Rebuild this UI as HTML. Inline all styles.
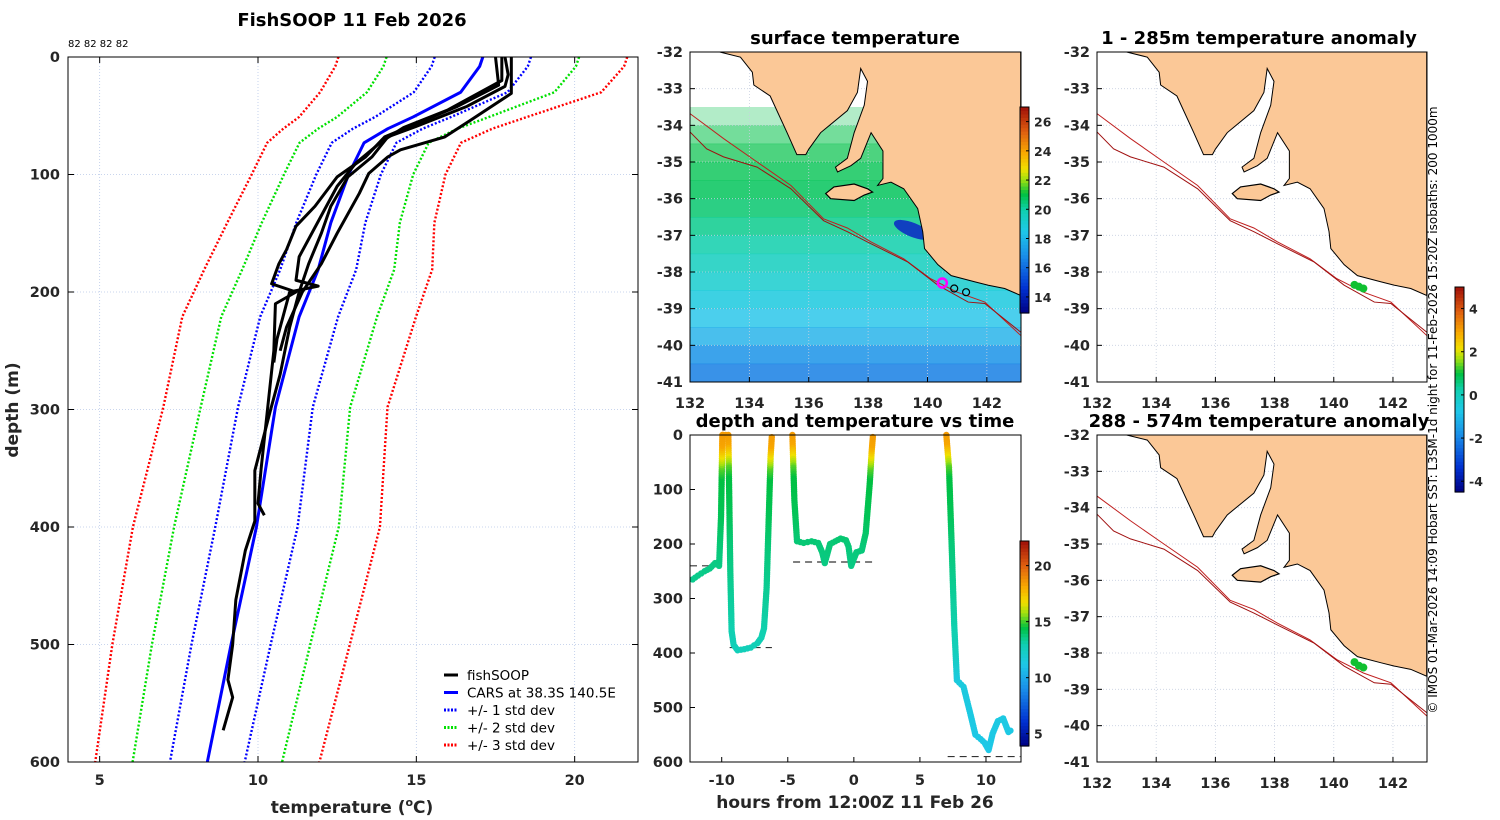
<!DOCTYPE html>
<html><head><meta charset="utf-8"><style>
html,body{margin:0;padding:0;background:#fff;}
svg{display:block;font-family:"DejaVu Sans","Liberation Sans",sans-serif;}
.tk{font-size:14.5px;font-weight:bold;fill:#262626;}
.ti{font-size:18px;font-weight:bold;fill:#000;}
</style></head><body>
<svg id="fig" width="1500" height="820" viewBox="0 0 1500 820" xmlns="http://www.w3.org/2000/svg"></svg>
<script>
// ---------- DATA ----------
const carsDepth=[0,8,30,51,61,73,100,141,181,221,298,400,500,600];
const carsTemp=[17.1,17.0,16.4,14.9,14.1,13.35,12.86,12.3,11.9,11.3,10.55,9.95,9.15,8.4];
const carsStd=[1.52,1.52,1.48,1.2,1.1,1.02,1.02,1.09,1.2,1.23,1.18,1.3,1.25,1.18];
const prof1Depth=[0,15,25,42,59,68,85,102,127,150,176,200,230,270,300,352,395,420,462,500,530,545,573];
const prof1Temp=[17.8,17.9,17.8,16.6,15.0,14.1,13.6,12.84,12.3,12.0,11.6,11.3,11.0,10.7,10.4,9.9,9.9,9.6,9.3,9.2,9.05,9.2,8.9];
const prof2Depth=[0,31,54,68,79,85,99,116,150,176,200,230,250];
const prof2Temp=[18.0,18.0,16.7,15.9,14.5,14.1,13.5,13.2,12.5,12.0,11.4,10.9,10.7];
const prof3Depth=[0,24,42,59,68,85,102,127,144,164,176,193,200,210,250,300,350,380,390];
const prof3Temp=[17.5,17.6,16.3,14.8,14.0,13.4,12.5,11.8,11.2,10.9,10.66,10.43,11.2,10.55,10.5,10.3,10.1,10.0,10.2];
const prof4Depth=[0,20,45,60,72,90,110,140,170,190,195,200,240,260];
const prof4Temp=[17.7,17.7,16.0,14.6,13.9,13.1,12.5,11.9,11.3,11.2,11.9,11.0,10.6,10.5];
const legendLabels=["fishSOOP","CARS at 38.3S 140.5E","+/- 1 std dev","+/- 2 std dev","+/- 3 std dev"];
const tempTicks=[5,10,15,20];
const depthTicks=[0,100,200,300,400,500,600];
// depth-time series
const dtHours=[-12.2,-11.8,-11.3,-10.9,-10.5,-10.2,-10.05,-9.95,-9.9,-9.5,-9.45,-9.35,-9.25,-9.1,-8.8,-8.3,-7.8,-7.3,-7.0,-6.8,-6.6,-6.4,-6.3,-6.2];
const dtDepth=[265,258,250,245,235,240,150,0,0,0,80,250,360,385,395,393,390,382,372,355,280,120,40,0];
const dtHours2=[-4.65,-4.6,-4.5,-4.3,-3.8,-3.2,-2.7,-2.4,-2.2,-1.8,-1.4,-1.0,-0.6,-0.4,-0.2,0.2,0.6,0.9,1.2,1.35,1.45];
const dtDepth2=[0,40,120,195,198,195,198,215,235,200,195,190,193,205,240,215,212,180,90,30,0];
const dtHours3=[7.0,7.2,7.4,7.6,7.8,8.3,8.8,9.2,9.6,9.9,10.2,10.5,10.9,11.3,11.7,12.0];
const dtDepth3=[0,60,200,350,450,462,510,550,558,565,578,548,525,520,545,540];
const dashDepth=[240,390,233,590];
const dashH0=[-12.4,-9.4,-4.6,7.1];
const dashH1=[-10.2,-6.2,1.4,12.6];
// SST bands (lat, temp)
const sstLat=[-33.5,-34.0,-34.5,-35,-35.5,-36,-36.5,-37,-37.5,-38,-38.5,-39,-39.5,-40,-40.5];
const sstVal=[21.0,21.0,21.0,20.9,20.8,20.6,20.3,20.0,19.6,19.2,18.8,18.4,17.8,17.0,16.5];
const sstOpacity=[0.3,0.55,0.7,0.8,0.85,0.85,0.85,0.85,0.85,0.85,0.85,0.8,0.8,0.85,0.85];
const latTicks=[-32,-33,-34,-35,-36,-37,-38,-39,-40,-41];
const lonTicks=[132,134,136,138,140,142];
const coastLon=[133.0,133.7,134.1,134.15,134.7,135.27,135.6,135.9,136.0,136.4,137.3,137.64,137.75,137.98,137.87,137.53,137.3,136.9,136.97,137.42,137.75,138.1,138.5,138.5,138.32,138.77,139.2,139.67,139.84,139.9,140.35,140.8,141.6,142.05,142.6,143.14,143.14];
const coastLat=[-32.0,-32.14,-32.55,-32.9,-33.2,-34.2,-34.8,-34.8,-34.65,-34.2,-33.6,-33.1,-32.45,-32.8,-33.45,-34.2,-34.9,-35.14,-35.27,-35.1,-34.9,-34.2,-34.7,-35.45,-35.64,-35.55,-35.73,-36.27,-36.9,-37.36,-37.8,-38.1,-38.27,-38.36,-38.45,-38.64,-32.0];
const kiLon=[136.57,136.85,137.53,137.98,138.15,137.87,137.53,136.74];
const kiLat=[-35.86,-35.68,-35.6,-35.73,-35.82,-35.9,-36.05,-36.0];
const iso1Lon=[132,133.13,134.26,135.4,136.5,137.3,138.1,139.2,140.1,141.0,141.93,143.14];
const iso1Lat=[-33.68,-34.36,-35.0,-35.64,-36.55,-36.8,-37.18,-37.64,-38.18,-38.55,-38.82,-39.73];
const iso2Lon=[132,132.56,133.13,134.26,135.4,136.5,137.3,138.1,139.34,140.35,141.37,141.93,143.14];
const iso2Lat=[-34.18,-34.64,-34.86,-35.14,-35.73,-36.6,-36.9,-37.23,-37.73,-38.36,-38.82,-38.86,-39.64];
const tagLon=[140.7,140.85,141.0];
const tagLat1=[-38.35,-38.4,-38.45];
const tagLat2=[-38.25,-38.35,-38.4];
const sstCbTicks=[14,16,18,20,22,24,26];
const anoCbTicks=[-4,-2,0,2,4];
const dtCbTicks=[5,10,15,20];

// ---------- helpers ----------
const S=document.getElementById('fig');const NS='http://www.w3.org/2000/svg';
function mk(tag,attrs,parent){const e=document.createElementNS(NS,tag);for(const k in attrs)e.setAttribute(k,attrs[k]);(parent||S).appendChild(e);return e;}
function txt(x,y,s,cls,anchor,extra){const t=mk('text',Object.assign({x:x,y:y,class:cls||'tk','text-anchor':anchor||'middle'},extra||{}));t.textContent=s;return t;}
const stops=[[0,'#000080'],[0.12,'#0030d0'],[0.28,'#1a8ee8'],[0.4,'#1ec8e8'],[0.5,'#10d0b0'],[0.58,'#00c040'],[0.65,'#a0e010'],[0.7,'#f0e000'],[0.78,'#f8a800'],[0.88,'#e06010'],[1,'#a01008']];
function hx(c){return [parseInt(c.slice(1,3),16),parseInt(c.slice(3,5),16),parseInt(c.slice(5,7),16)];}
function cmap(v){v=Math.max(0,Math.min(1,v));for(let i=1;i<stops.length;i++){if(v<=stops[i][0]){const a=hx(stops[i-1][1]),b=hx(stops[i][1]);const f=(v-stops[i-1][0])/(stops[i][0]-stops[i-1][0]);return 'rgb('+a.map((x,j)=>Math.round(x+(b[j]-x)*f)).join(',')+')';}}return stops[stops.length-1][1];}
function interp(xs,ys,x){if(x<=xs[0])return ys[0];for(let i=1;i<xs.length;i++)if(x<=xs[i])return ys[i-1]+(ys[i]-ys[i-1])*(x-xs[i-1])/(xs[i]-xs[i-1]);return ys[ys.length-1];}
function colorbar(x,y0,y1,vmin,vmax,ticks,name){
  const g=mk('g',{});
  const n=60;for(let i=0;i<n;i++){mk('rect',{x:x,y:y1-(i+1)*(y1-y0)/n,width:9,height:(y1-y0)/n+0.6,fill:cmap((i+0.5)/n)},g);}
  mk('rect',{x:x,y:y0,width:9,height:y1-y0,fill:'none',stroke:'#000','stroke-width':1},g);
  ticks.forEach(t=>{const yy=y1-(t-vmin)/(vmax-vmin)*(y1-y0);mk('line',{x1:x+9,x2:x+6,y1:yy,y2:yy,stroke:'#000'},g);const l=txt(x+14,yy+5,String(t),'tk','start');l.setAttribute('style','font-size:12.5px');g.appendChild(l);});
}

// ---------- LEFT PROFILE PANEL ----------
const L={x0:68,x1:638,y0:57,y1:762,t0:4,t1:22,d0:0,d1:600};
const px=t=>L.x0+(t-L.t0)/(L.t1-L.t0)*(L.x1-L.x0);
const py=d=>L.y0+(d-L.d0)/(L.d1-L.d0)*(L.y1-L.y0);
const gL=mk('g',{});
tempTicks.forEach(t=>{mk('line',{x1:px(t),x2:px(t),y1:L.y0,y2:L.y1,stroke:'#b8c8e8','stroke-width':0.8,'stroke-dasharray':'1,2'},gL);});
depthTicks.forEach(d=>{mk('line',{x1:L.x0,x2:L.x1,y1:py(d),y2:py(d),stroke:'#b8c8e8','stroke-width':0.8,'stroke-dasharray':'1,2'},gL);});
function pline(ds,ts,col,w,dash,name){const p=mk('polyline',{points:ds.map((d,i)=>px(ts[i])+','+py(d)).join(' '),fill:'none',stroke:col,'stroke-width':w,'stroke-linejoin':'round'},gL);if(dash)p.setAttribute('stroke-dasharray',dash);}
[[1,'#0000ff'],[2,'#00e000'],[3,'#ff0000']].forEach(([k,c])=>{
  pline(carsDepth,carsTemp.map((t,i)=>t-k*carsStd[i]),c,2.4,'2,2','std-minus-'+k);
  pline(carsDepth,carsTemp.map((t,i)=>t+k*carsStd[i]),c,2.4,'2,2','std-plus-'+k);
});
pline(carsDepth,carsTemp,'#0000ff',3,null,'cars-profile');
pline(prof1Depth,prof1Temp,'#000',3,null,'fishsoop-profile-1');
pline(prof2Depth,prof2Temp,'#000',3,null,'fishsoop-profile-2');
pline(prof3Depth,prof3Temp,'#000',3,null,'fishsoop-profile-3');
pline(prof4Depth,prof4Temp,'#000',3,null,'fishsoop-profile-4');
mk('rect',{x:L.x0,y:L.y0,width:L.x1-L.x0,height:L.y1-L.y0,fill:'none',stroke:'#000','stroke-width':1},gL);
tempTicks.forEach(t=>{mk('line',{x1:px(t),x2:px(t),y1:L.y1,y2:L.y1-6,stroke:'#000'},gL);mk('line',{x1:px(t),x2:px(t),y1:L.y0,y2:L.y0+6,stroke:'#000'},gL);gL.appendChild(txt(px(t),785,String(t)));});
depthTicks.forEach(d=>{mk('line',{x1:L.x0,x2:L.x0+6,y1:py(d),y2:py(d),stroke:'#000'},gL);mk('line',{x1:L.x1,x2:L.x1-6,y1:py(d),y2:py(d),stroke:'#000'},gL);gL.appendChild(txt(60,py(d)+5,String(d),'tk','end'));});
const xl=txt(352,813,'','tk','middle',{style:'font-size:17px'});xl.innerHTML='temperature (<tspan dy="-7" style="font-size:11px">o</tspan><tspan dy="7">C)</tspan>';
const yl=txt(0,0,'depth (m)','tk','middle',{transform:'translate(18,410) rotate(-90)',style:'font-size:17px'});
const t1=txt(352,26,'FishSOOP 11 Feb 2026','ti');
const sm=txt(68,47,'82 82 82 82','tk','start',{style:'font-size:10px;font-weight:normal;fill:#000'});
// legend
const lg=mk('g',{});
const lcol=['#000','#0000ff','#0000ff','#00e000','#ff0000'];
legendLabels.forEach((s,i)=>{const y=675+i*17.5;const ln=mk('line',{x1:444,x2:458,y1:y,y2:y,stroke:lcol[i],'stroke-width':3},lg);if(i>1)ln.setAttribute('stroke-dasharray','2,1.5');
  const e=txt(467,y+5,s,'tk','start',{style:'font-size:13.5px;font-weight:normal;fill:#000'});lg.appendChild(e);});

// ---------- MAPS ----------
function mapPanel(x0,y0,x1,y1,name,isSST,tagLat){
  const lon0=132,lon1=143.15,lat0=-32,lat1=-41;
  const mx=l=>x0+(l-lon0)/(lon1-lon0)*(x1-x0);const my=l=>y0+(l-lat0)/(lat1-lat0)*(y1-y0);
  const g=mk('g',{});
  if(isSST){
    sstLat.forEach((la,i)=>{const c=cmap((sstVal[i]-12.9)/(27-12.9));mk('rect',{x:x0,y:my(la),width:x1-x0,height:my(la-0.5)-my(la)+0.5,fill:c,opacity:sstOpacity[i]},g);});
  }
  lonTicks.forEach(l=>mk('line',{x1:mx(l),x2:mx(l),y1:y0,y2:y1,stroke:'#c8d0e0','stroke-width':0.8,'stroke-dasharray':'1,2'},g));
  latTicks.forEach(l=>mk('line',{x1:x0,x2:x1,y1:my(l),y2:my(l),stroke:'#c8d0e0','stroke-width':0.8,'stroke-dasharray':'1,2'},g));
  if(isSST) mk('ellipse',{cx:mx(139.5),cy:my(-36.85),rx:20,ry:7,fill:'#1040c0',transform:'rotate(22 '+mx(139.5)+' '+my(-36.85)+')'},g);
  const land=mk('polygon',{points:coastLon.map((l,i)=>mx(l)+','+my(coastLat[i])).join(' '),fill:'#fbc897',stroke:'#000','stroke-width':1},g);
  mk('polygon',{points:kiLon.map((l,i)=>mx(l)+','+my(kiLat[i])).join(' '),fill:'#fbc897',stroke:'#000','stroke-width':1.2},g);
  mk('polyline',{points:iso1Lon.map((l,i)=>mx(l)+','+my(iso1Lat[i])).join(' '),fill:'none',stroke:'#c02020','stroke-width':1},g);
  mk('polyline',{points:iso2Lon.map((l,i)=>mx(l)+','+my(iso2Lat[i])).join(' '),fill:'none',stroke:'#a01010','stroke-width':1},g);
  if(isSST){mk('circle',{cx:mx(140.5),cy:my(-38.3),r:4.5,fill:'none',stroke:'#ff00ff','stroke-width':2.5},g);mk('circle',{cx:mx(141.3),cy:my(-38.55),r:3.5,fill:'none',stroke:'#000','stroke-width':1.2},g);mk('circle',{cx:mx(140.9),cy:my(-38.45),r:3.5,fill:'none',stroke:'#000','stroke-width':1.2},g);}
  if(tagLat) tagLon.forEach((l,i)=>mk('circle',{cx:mx(l),cy:my(tagLat[i]),r:4,fill:'#10c030'},g));
  mk('rect',{x:x0,y:y0,width:x1-x0,height:y1-y0,fill:'none',stroke:'#000','stroke-width':1},g);
  latTicks.forEach(l=>{mk('line',{x1:x0,x2:x0+5,y1:my(l),y2:my(l),stroke:'#000'},g);g.appendChild(txt(x0-7,my(l)+5,String(l),'tk','end'));});
  lonTicks.forEach(l=>{mk('line',{x1:mx(l),x2:mx(l),y1:y1,y2:y1-5,stroke:'#000'},g);g.appendChild(txt(mx(l),y1+26,String(l)));});
}
mapPanel(690,52,1021,382,'sst-map',true,null);
colorbar(1020,107,313,12.9,27,sstCbTicks,'sst-colorbar');
txt(855,44,'surface temperature','ti');
mapPanel(1097,52,1427,382,'anomaly-map-shallow',false,tagLat1);
txt(1259,44,'1 - 285m temperature anomaly','ti');
mapPanel(1097,435,1427,762,'anomaly-map-deep',false,tagLat2);
txt(1259,427,'288 - 574m temperature anomaly','ti');
colorbar(1455,287,492,-4.5,5,anoCbTicks,'anomaly-colorbar');
const cr=txt(0,0,'© IMOS 01-Mar-2026 14:09 Hobart SST: L3SM-1d night for 11-Feb-2026 15:20Z isobaths: 200  1000m','tk','middle',{transform:'translate(1437,410) rotate(-90)',style:'font-size:12px;font-weight:normal;fill:#000'});


// ---------- DEPTH-TIME PANEL ----------
const D={x0:690,x1:1021,y0:435,y1:762,h0:-12.4,h1:12.65};
const hx2=h=>D.x0+(h-D.h0)/(D.h1-D.h0)*(D.x1-D.x0);const dy=d=>D.y0+d/600*(D.y1-D.y0);
const gD=mk('g',{});
const tOfD=d=>interp([0,20,40,60,80,150,200,350,400,450,600],[18.5,18.2,16.7,15.2,14.5,14.2,13.8,13.1,12.7,11.6,11.2],d);
dashDepth.forEach((d,i)=>mk('line',{x1:hx2(dashH0[i]),x2:hx2(dashH1[i]),y1:dy(d),y2:dy(d),stroke:'#333','stroke-width':1.2,'stroke-dasharray':'7,5'},gD));
function trace(hs,ds,name){const tg=mk('g',{},gD);
  for(let i=1;i<hs.length;i++){const n=Math.max(2,Math.ceil(Math.abs(ds[i]-ds[i-1])/4));for(let k=0;k<n;k++){const f=k/n;const h=hs[i-1]+(hs[i]-hs[i-1])*f,d=ds[i-1]+(ds[i]-ds[i-1])*f;mk('circle',{cx:hx2(h),cy:dy(d),r:3.2,fill:cmap((tOfD(d)-3.9)/(22.2-3.9))},tg);}}}
trace(dtHours,dtDepth,'dive-trace-1');trace(dtHours2,dtDepth2,'dive-trace-2');trace(dtHours3,dtDepth3,'dive-trace-3');
mk('rect',{x:D.x0,y:D.y0,width:D.x1-D.x0,height:D.y1-D.y0,fill:'none',stroke:'#000','stroke-width':1},gD);
[-10,-5,0,5,10].forEach(h=>{mk('line',{x1:hx2(h),x2:hx2(h),y1:D.y1,y2:D.y1-5,stroke:'#000'},gD);gD.appendChild(txt(hx2(h),785,String(h)));});
depthTicks.forEach(d=>{mk('line',{x1:D.x0,x2:D.x0+5,y1:dy(d),y2:dy(d),stroke:'#000'},gD);gD.appendChild(txt(683,dy(d)+5,String(d),'tk','end'));});
txt(855,427,'depth and temperature vs time','ti');
txt(855,808,'hours from 12:00Z 11 Feb 26','tk','middle',{style:'font-size:17px'});
colorbar(1020,541,746,3.9,22.2,dtCbTicks,'depth-time-colorbar');
</script>
</body></html>
